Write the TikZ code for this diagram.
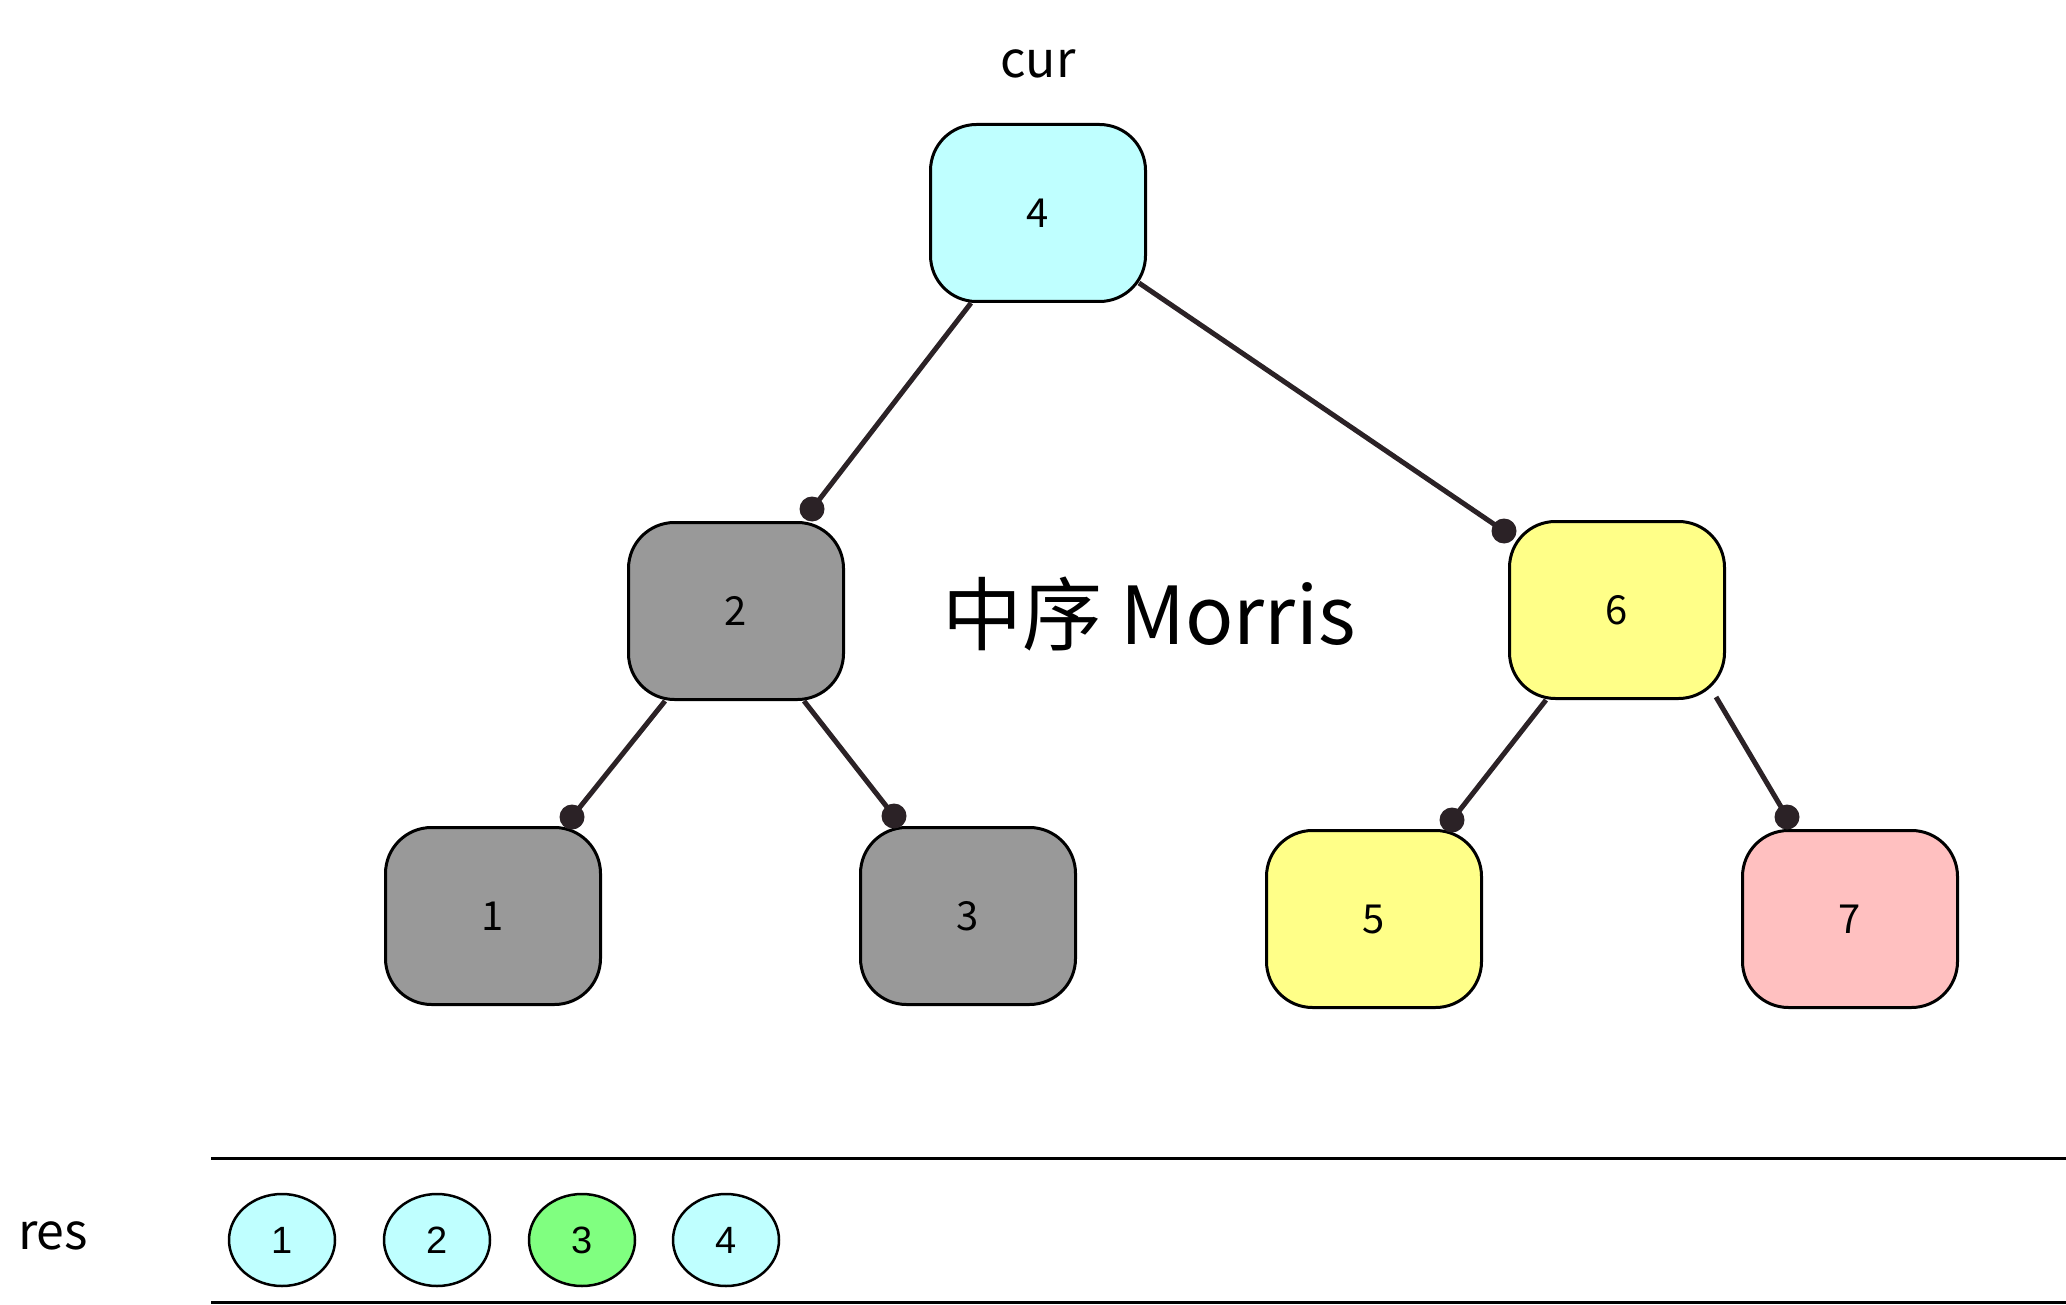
\documentclass[tikz,border=0pt]{standalone}
\usepackage{fontspec}
\setmainfont{Liberation Sans}
\newfontfamily\handfont{Noto Sans CJK SC}
\usetikzlibrary{shapes.geometric,calc}

\definecolor{edgecol}{HTML}{2B2226}
\definecolor{cyanfill}{HTML}{BFFFFF}
\definecolor{grayfill}{HTML}{999999}
\definecolor{yellowfill}{HTML}{FFFF88}
\definecolor{pinkfill}{HTML}{FFC0C0}
\definecolor{greenfill}{HTML}{80FF80}

\tikzset{
  treenode/.style={draw=black, line width=3pt, rounded corners=46pt,
    minimum width=215pt, minimum height=177pt, inner sep=0pt,
    font=\handfont\fontsize{40}{44}\selectfont},
  reselem/.style={ellipse, draw=black, line width=2.5pt,
    minimum width=106pt, minimum height=92pt, inner sep=0pt,
    font=\fontsize{38}{42}\selectfont},
  link/.style={draw=edgecol, line width=5pt},
  linkdot/.style={fill=edgecol},
  label/.style={font=\handfont\fontsize{50}{56}\selectfont, inner sep=0pt},
  rule/.style={draw=black, line width=3pt}
}

\begin{document}
\begin{tikzpicture}[x=1pt, y=-1pt]
\useasboundingbox (0,0) rectangle (2066,1305);

% tree nodes
\node[treenode, fill=cyanfill]   (n4) at (1038,213) {4};
\node[treenode, fill=grayfill]   (n2) at (736,611)  {2};
\node[treenode, fill=yellowfill] (n6) at (1617,610) {6};
\node[treenode, fill=grayfill]   (n1) at (493,916)  {1};
\node[treenode, fill=grayfill]   (n3) at (968,916)  {3};
\node[treenode, fill=yellowfill] (n5) at (1374,919) {5};
\node[treenode, fill=pinkfill]   (n7) at (1850,919) {7};

% labels
\node[label] (cur) at (1038,64) {cur};
\node[label, font=\handfont\fontsize{80}{84}\selectfont] (title) at (1149,614) {中序 Morris};
\node[label] (res) at (53,1236) {res};

% connectors: start on the parent's lower edge, dot on the child's top corner
\coordinate (s42) at ($(n4.south west)+(42,0)$);
\coordinate (e42) at ($(n2.north east)+(-33,-12)$);
\coordinate (s46) at ($(n4.south east)+(-8,-20)$);
\coordinate (e46) at ($(n6.north west)+(-4,11)$);
\coordinate (s21) at ($(n2.south west)+(38,0)$);
\coordinate (e21) at ($(n1.north east)+(-30,-9)$);
\coordinate (s23) at ($(n2.south east)+(-41,0)$);
\coordinate (e23) at ($(n3.north west)+(35,-10)$);
\coordinate (s65) at ($(n6.south west)+(38,0)$);
\coordinate (e65) at ($(n5.north east)+(-31,-9)$);
\coordinate (s67) at ($(n6.south east)+(-10,-3)$);
\coordinate (e67) at ($(n7.north west)+(46,-12)$);

\foreach \s/\e in {s42/e42, s46/e46, s21/e21, s23/e23, s65/e65, s67/e67} {
  \draw[link] (\s) -- (\e);
  \fill[linkdot] (\e) circle (12.5pt);
}

% result array
\coordinate (ta) at (211,1158);
\coordinate (tb) at (2066,1158);
\coordinate (ba) at (211,1302);
\coordinate (bb) at (2066,1302);
\draw[rule] (ta) -- (tb);
\draw[rule] (ba) -- (bb);

\node[reselem, fill=cyanfill]  (r1) at (282,1240) {1};
\node[reselem, fill=cyanfill]  (r2) at (437,1240) {2};
\node[reselem, fill=greenfill] (r3) at (582,1240) {3};
\node[reselem, fill=cyanfill]  (r4) at (726,1240) {4};
\end{tikzpicture}
\end{document}
